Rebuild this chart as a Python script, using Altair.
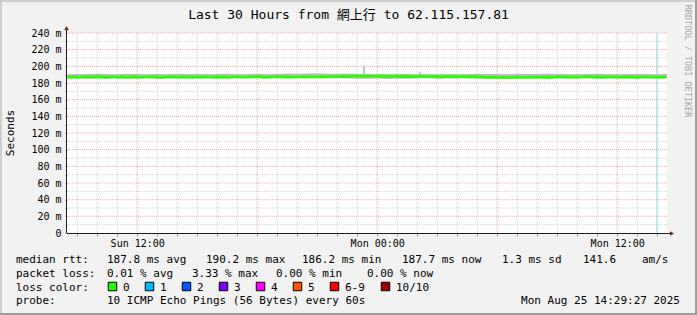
import altair as alt
import pandas as pd

# ---------------- data (hours counted from Sun 00:00) ----------------
X_START = 8.49   # Sun 08:29:27
X_END = 38.49    # Mon 14:29:27

# median rtt (ms), one reading every 15 minutes from Sun 08:30, last at Mon 14:27
median_rtt = [
    187.0, 187.4, 186.8, 187.2, 187.6, 186.9, 187.3, 187.1, 186.7, 187.5, 187.0, 187.3, 186.8, 187.4, 187.1, 186.9,
    187.2, 187.6, 187.0, 186.8, 187.3, 187.5, 186.9, 187.1, 187.4, 186.8, 187.2, 187.0, 187.5, 186.9, 187.3, 187.1,
    186.8, 187.2, 187.4, 187.0, 186.9, 187.3, 187.6, 187.1, 186.8, 187.2, 187.5, 187.0, 187.3, 186.9, 187.2, 187.4,
    187.1, 187.5, 187.2, 187.6, 187.3, 187.8, 187.5, 187.9, 187.6, 188.2, 188.4, 188.0, 188.3, 188.1, 187.9, 188.2,
    188.0, 187.8, 188.1, 187.7, 187.9, 187.6, 188.0, 187.8, 187.5, 187.9, 187.7, 187.4, 187.8, 187.6, 187.5, 187.7,
    187.4, 187.6, 187.3, 187.0, 186.8, 187.1, 186.6, 186.9, 186.5, 186.8, 187.1, 186.6, 186.9, 186.7, 187.2, 186.8,
    187.0, 186.7, 187.3, 187.5, 187.1, 187.4, 186.9, 187.2, 187.6, 187.0, 187.3, 186.8, 187.2, 187.5, 187.0, 186.9,
    187.3, 187.0, 186.8, 187.2, 187.4, 186.9, 187.1, 187.0, 187.2,
]
median_hours = [8.5 + 0.25 * i for i in range(len(median_rtt) - 1)] + [38.45]

# smoke band (ms), every 30 minutes from Sun 08:30
smoke_hi = [
    190.6, 190.9, 190.4, 191.0, 190.7, 190.5, 191.1, 190.8, 190.6, 190.9,
    190.5, 191.0, 190.7, 190.8, 190.4, 190.9, 191.2, 190.6, 190.8, 191.0,
    190.7, 190.9, 191.3, 191.0, 191.4, 191.6, 191.2, 191.0, 191.3, 190.9,
    191.1, 190.8, 190.6, 191.0, 190.7, 190.5, 190.9, 190.6, 190.8, 190.5,
    190.9, 191.0, 190.7, 190.8, 190.6, 191.0, 190.9, 190.7, 191.1, 190.8,
    190.6, 190.9, 190.7, 191.0, 190.8, 190.6, 190.9, 190.7, 190.8, 190.6,
    190.7,
]
smoke_lo = [
    185.4, 185.7, 185.2, 185.6, 185.5, 185.3, 185.8, 185.4, 185.6, 185.2,
    185.5, 185.7, 185.3, 185.6, 185.4, 185.5, 185.8, 185.6, 185.9, 186.2,
    186.0, 186.4, 186.1, 186.3, 186.0, 185.8, 185.6, 185.9, 185.4, 185.2,
    185.0, 185.3, 184.9, 185.2, 185.0, 185.4, 185.6, 185.2, 185.5, 185.3,
    185.6, 185.4, 185.2, 185.5, 185.3, 185.6, 185.4, 185.5, 185.7, 185.3,
    185.5, 185.4, 185.6, 185.3, 185.5, 185.4, 185.6, 185.3, 185.5, 185.4,
    185.5,
]
smoke_hours = [8.5 + 0.5 * i for i in range(len(smoke_hi))]

# isolated smoke spikes
spike_hours = [23.34, 26.14]
spike_hi = [200.0, 193.5]
spike_lo = [187.0, 187.5]

# light-blue vertical marker
marker_hours = [37.99]

# axis ticks / labels
x_label_hours = [12, 24, 36]
x_label_text = ["Sun 12:00", "Mon 00:00", "Mon 12:00"]
x_minor_hours = list(range(9, 39))
x_major_hours = [12, 18, 24, 30, 36]
y_minor = list(range(10, 240, 20))
y_major = list(range(20, 241, 20))

title_text = "Last 30 Hours from 網上行 to 62.115.157.81"
legend_row1 = ["median rtt:", "187.8 ms avg", "190.2 ms max", "186.2 ms min", "187.7 ms now", "1.3 ms sd", "141.6", "am/s"]
legend_row2 = ["packet loss:", "0.01 % avg", "3.33 % max", "0.00 % min", "0.00 % now"]
loss_labels = ["0", "1", "2", "3", "4", "5", "6-9", "10/10"]
loss_colors = ["#26ff00", "#00b8ff", "#0059ff", "#7f00ff", "#ff00ff", "#ff5500", "#ff0000", "#a10000"]
probe_text = "10 ICMP Echo Pings (56 Bytes) every 60s"
stamp_text = "Mon Aug 25 14:29:27 2025"
watermark = "RRDTOOL / TOBI OETIKER"

# ---------------- layout / style ----------------
W, H = 600, 200
PAD = {"left": 67, "top": 33, "right": 30, "bottom": 82}
MONO = "DejaVu Sans Mono, Noto Sans CJK TC"

x_label_expr = " : ".join(
    f"datum.value == {h} ? '{t}'" for h, t in zip(x_label_hours, x_label_text)
) + " : ''"

xscale = alt.Scale(domain=[X_START, X_END], nice=False, zero=False)
yscale = alt.Scale(domain=[0, 240], nice=False)

xaxis = alt.Axis(values=x_minor_hours, labelExpr=x_label_expr, grid=False, domain=False,
                 tickSize=3, tickColor="#a0a0a0", labelFont=MONO, labelFontSize=10,
                 labelColor="#000000", labelBaseline="alphabetic", labelPadding=10,
                 labelOverlap=False, labelFlush=False, title=None)
yaxis = alt.Axis(values=list(range(0, 241, 10)),
                 labelExpr="datum.value == 0 ? '0\u00a0\u00a0' : (datum.value % 20 == 0 ? datum.value + ' m' : '')",
                 grid=False, domain=False, tickSize=2, tickColor="#a0a0a0",
                 labelFont=MONO, labelFontSize=10, labelColor="#000000", labelPadding=4,
                 labelOverlap=False, labelFlush=False, title=None)


def X(field):
    return alt.X(f"{field}:Q", scale=xscale, axis=xaxis)


def Y(field):
    return alt.Y(f"{field}:Q", scale=yscale, axis=yaxis)


def txt(s, x, y, size=11, align="left", baseline="alphabetic", color="#000000", angle=0):
    kw = dict(align=align, baseline=baseline, font=MONO, fontSize=size, color=color)
    if angle:
        kw["angle"] = angle
    return alt.Chart(pd.DataFrame({"t": [s]})).mark_text(**kw).encode(
        x=alt.value(x), y=alt.value(y), text="t:N")


def hline(x1, x2, y, color, width=1):
    return alt.Chart(pd.DataFrame({"k": [0]})).mark_rule(color=color, strokeWidth=width).encode(
        x=alt.value(x1), x2=alt.value(x2), y=alt.value(y))


def vline(x, y1, y2, color, width=1):
    return alt.Chart(pd.DataFrame({"k": [0]})).mark_rule(color=color, strokeWidth=width).encode(
        x=alt.value(x), y=alt.value(y1), y2=alt.value(y2))


# ---------------- layers ----------------
layers = []

# grid
layers.append(alt.Chart(pd.DataFrame({"h": [h for h in x_minor_hours if h not in x_major_hours]}))
              .mark_rule(color="#d4d4d4", strokeDash=[1, 1], strokeWidth=1).encode(x=X("h")))
layers.append(alt.Chart(pd.DataFrame({"v": y_minor}))
              .mark_rule(color="#d4d4d4", strokeDash=[1, 1], strokeWidth=1).encode(y=Y("v")))
layers.append(alt.Chart(pd.DataFrame({"h": x_major_hours}))
              .mark_rule(color="#eeaaaa", strokeDash=[1, 1], strokeWidth=1).encode(x=X("h")))
layers.append(alt.Chart(pd.DataFrame({"v": y_major}))
              .mark_rule(color="#eeaaaa", strokeDash=[1, 1], strokeWidth=1).encode(y=Y("v")))

# smoke
smoke_df = pd.DataFrame({"h": smoke_hours[:len(smoke_lo)], "lo": smoke_lo[:len(smoke_hours)],
                         "hi": smoke_hi[:len(smoke_lo)]})
layers.append(alt.Chart(smoke_df).mark_area(color="#bdbdbd", clip=True).encode(
    x=X("h"), y=Y("lo"), y2="hi:Q"))
spike_df = pd.DataFrame({"h": spike_hours, "lo": spike_lo, "hi": spike_hi})
layers.append(alt.Chart(spike_df).mark_rule(color="#b4b4b4", strokeWidth=1.5).encode(
    x=X("h"), y=Y("lo"), y2="hi:Q"))

# blue marker
layers.append(alt.Chart(pd.DataFrame({"h": marker_hours}))
              .mark_rule(color="#a6dcf2", strokeWidth=1.2).encode(x=X("h")))

# median line
med_df = pd.DataFrame({"h": median_hours, "v": median_rtt})
layers.append(alt.Chart(med_df).mark_line(color="#26ff00", strokeWidth=2.6, clip=True).encode(
    x=X("h"), y=Y("v")))

# axis lines + arrows
layers.append(vline(-0.5, -4, 200, "#1f1f1f"))
layers.append(hline(0, 603, 200.5, "#1f1f1f"))
layers.append(alt.Chart(pd.DataFrame({"k": [0]})).mark_point(
    shape="triangle-up", filled=True, color="#801f1f", size=22, opacity=1).encode(
    x=alt.value(-0.5), y=alt.value(-5)))
layers.append(alt.Chart(pd.DataFrame({"k": [0]})).mark_point(
    shape="triangle-right", filled=True, color="#801f1f", size=22, opacity=1).encode(
    x=alt.value(605), y=alt.value(200.5)))

# frame shading (rrdtool style)
layers.append(hline(-67, 630, -32, "#cfcfcf", 2))
layers.append(vline(-66, -33, 282, "#cfcfcf", 2))
layers.append(hline(-67, 630, 281, "#9e9e9e", 2))
layers.append(vline(629, -33, 282, "#9e9e9e", 2))

# texts
layers.append(txt(title_text, 281.5, -14, size=13, align="center"))
layers.append(txt("Seconds", -56.5, 100, size=11, align="center", baseline="middle", angle=270))
layers.append(txt(watermark, 621, 28, size=8.5, align="center", baseline="middle",
                  color="#a8a8a8", angle=90))

row_y = [230, 244, 257.5, 271]
row1_x = [16, 107, 206, 302, 402, 502, 583, 642]
for s, xa in zip(legend_row1, row1_x):
    layers.append(txt(s, xa - 67, row_y[0]))
row2_x = [16, 107, 192, 276, 367]
for s, xa in zip(legend_row2, row2_x):
    layers.append(txt(s, xa - 67, row_y[1]))
layers.append(txt("loss color:", 16 - 67, row_y[2]))
sq_left = [108, 145, 182, 219, 256, 293, 330, 381]
for lab, col, xa in zip(loss_labels, loss_colors, sq_left):
    layers.append(alt.Chart(pd.DataFrame({"k": [0]})).mark_square(
        color=col, size=72, stroke="#000000", strokeWidth=1, opacity=1).encode(
        x=alt.value(xa - 67 + 4.5), y=alt.value(row_y[2] - 4)))
    layers.append(txt(lab, xa - 67 + 15, row_y[2]))
layers.append(txt("probe:", 16 - 67, row_y[3]))
layers.append(txt(probe_text, 107 - 67, row_y[3]))
layers.append(txt(stamp_text, 680 - 67, row_y[3], align="right"))

chart = alt.layer(*layers).properties(
    width=W, height=H,
    autosize=alt.AutoSizeParams(type="none"),
    padding=PAD,
).configure(background="#f2f2f2").configure_view(fill="#ffffff", stroke=None)

chart.save("out.html", embed_options={"renderer": "svg", "actions": False})
